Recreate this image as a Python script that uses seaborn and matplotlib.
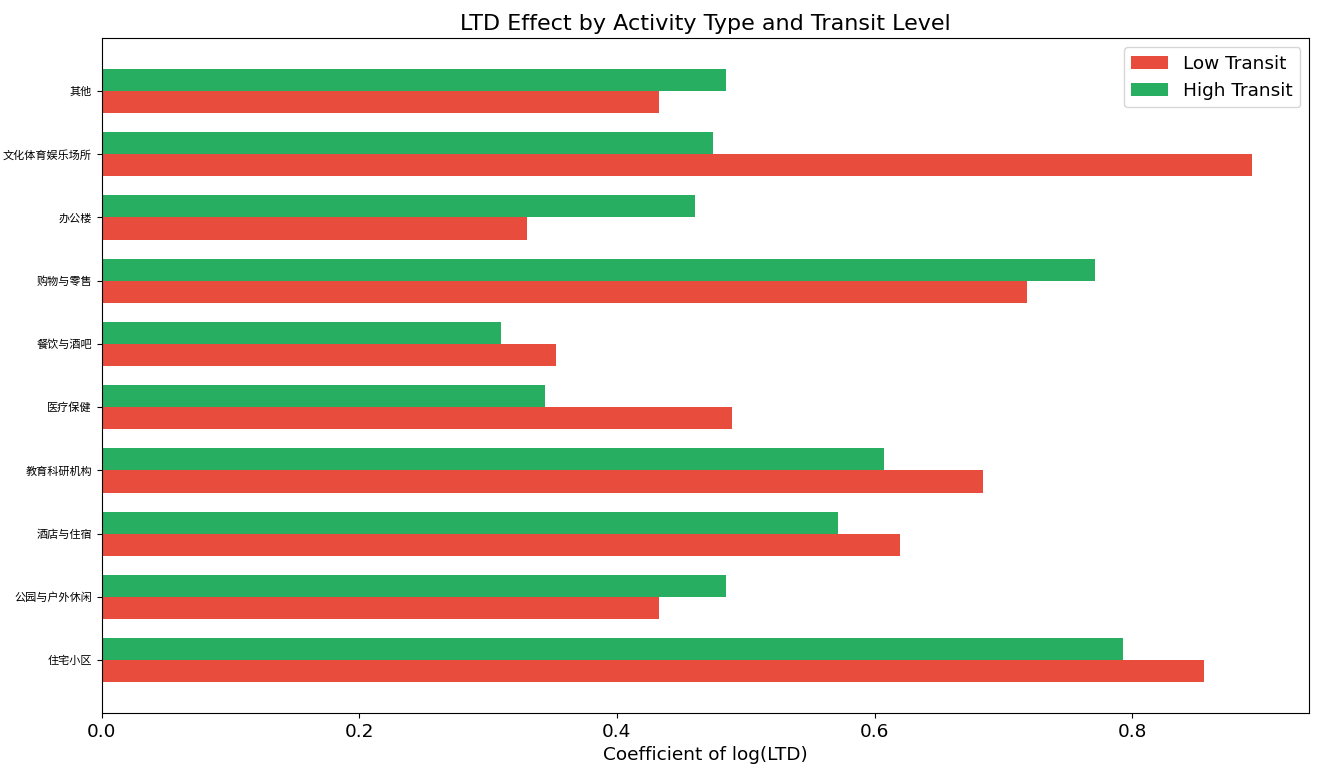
import pandas as pd
import matplotlib
matplotlib.use("Agg")
import matplotlib.pyplot as plt
import seaborn as sns

plt.rcParams['font.family'] = ['DejaVu Sans', 'Noto Sans CJK SC']

# Activity types, top to bottom as shown
activities = ['其他', '文化体育娱乐场所', '办公楼', '购物与零售', '餐饮与酒吧',
              '医疗保健', '教育科研机构', '酒店与住宿', '公园与户外休闲', '住宅小区']
low_transit = [0.433, 0.893, 0.330, 0.718, 0.353, 0.489, 0.684, 0.620, 0.433, 0.856]
high_transit = [0.485, 0.475, 0.461, 0.771, 0.310, 0.344, 0.607, 0.572, 0.485, 0.793]

df = pd.DataFrame({
    'activity': activities * 2,
    'coef': low_transit + high_transit,
    'level': ['Low Transit'] * len(activities) + ['High Transit'] * len(activities),
})

palette = {'Low Transit': '#e74c3c', 'High Transit': '#27ae60'}

fig, ax = plt.subplots(figsize=(13.2, 7.8), dpi=100)
sns.barplot(data=df, y='activity', x='coef', hue='level', order=activities,
            hue_order=['High Transit', 'Low Transit'], palette=palette,
            orient='h', width=0.7, saturation=1, errorbar=None, ax=ax)

n = len(activities)
ax.set_ylim(n - 1 + 0.835, -0.835)
ax.set_xlim(0, max(low_transit + high_transit) * 1.05)
ax.set_ylabel('')
ax.set_xlabel('Coefficient of log(LTD)', fontsize=13.3)
ax.set_title('LTD Effect by Activity Type and Transit Level', fontsize=16)
ax.tick_params(axis='x', labelsize=13.3)
ax.tick_params(axis='y', labelsize=8)

# legend: Low Transit first, as in the reference
handles, labels = ax.get_legend_handles_labels()
ax.legend(handles[::-1], labels[::-1], loc='upper right', fontsize=13.3)

plt.subplots_adjust(left=0.077, right=0.992, top=0.951, bottom=0.086)
fig.savefig('out.png', dpi=100)
